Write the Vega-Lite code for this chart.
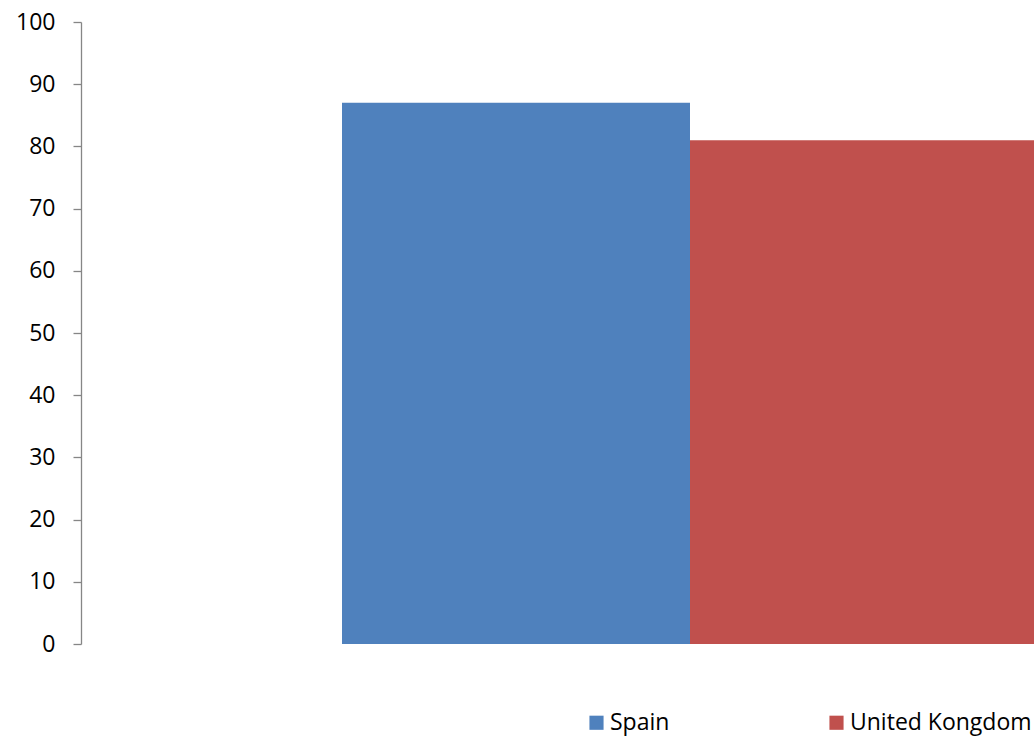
{
  "$schema": "https://vega.github.io/schema/vega-lite/v6.json",
  "autosize": {"type": "none"},
  "padding": {"left": 81, "top": 22, "right": 0, "bottom": 96},
  "width": 953,
  "height": 622,
  "background": "white",
  "config": {
    "view": {"stroke": null},
    "font": "Open Sans"
  },
  "data": {
    "values": [
      {"country": "Spain", "value": 87},
      {"country": "United Kongdom", "value": 81}
    ]
  },
  "mark": {"type": "bar", "clip": true},
  "encoding": {
    "x": {
      "field": "country",
      "type": "nominal",
      "axis": null,
      "scale": {"domain": ["Spain", "United Kongdom"], "range": [0, 1218], "paddingInner": 0, "paddingOuter": 0.75}
    },
    "y": {
      "field": "value",
      "type": "quantitative",
      "scale": {"domain": [0, 100], "nice": false},
      "axis": {
        "title": null,
        "values": [0, 10, 20, 30, 40, 50, 60, 70, 80, 90, 100],
        "grid": false,
        "domainColor": "#868686",
        "domainWidth": 1.3,
        "tickColor": "#868686",
        "tickWidth": 1.3,
        "tickSize": 8,
        "labelFont": "Open Sans",
        "labelFontSize": 23,
        "labelColor": "#000000",
        "labelPadding": 18
      }
    },
    "color": {
      "field": "country",
      "type": "nominal",
      "scale": {"domain": ["Spain", "United Kongdom"], "range": ["#4F81BD", "#C0504D"]},
      "legend": {
        "title": null,
        "orient": "none",
        "direction": "horizontal",
        "columns": 2,
        "gridAlign": "all",
        "columnPadding": 33,
        "legendX": 504,
        "legendY": 689,
        "symbolType": "square",
        "symbolSize": 200,
        "symbolStrokeWidth": 0,
        "labelOffset": 2,
        "labelFont": "Open Sans",
        "labelFontSize": 23,
        "labelColor": "#000000",
        "labelLimit": 400
      }
    }
  }
}
